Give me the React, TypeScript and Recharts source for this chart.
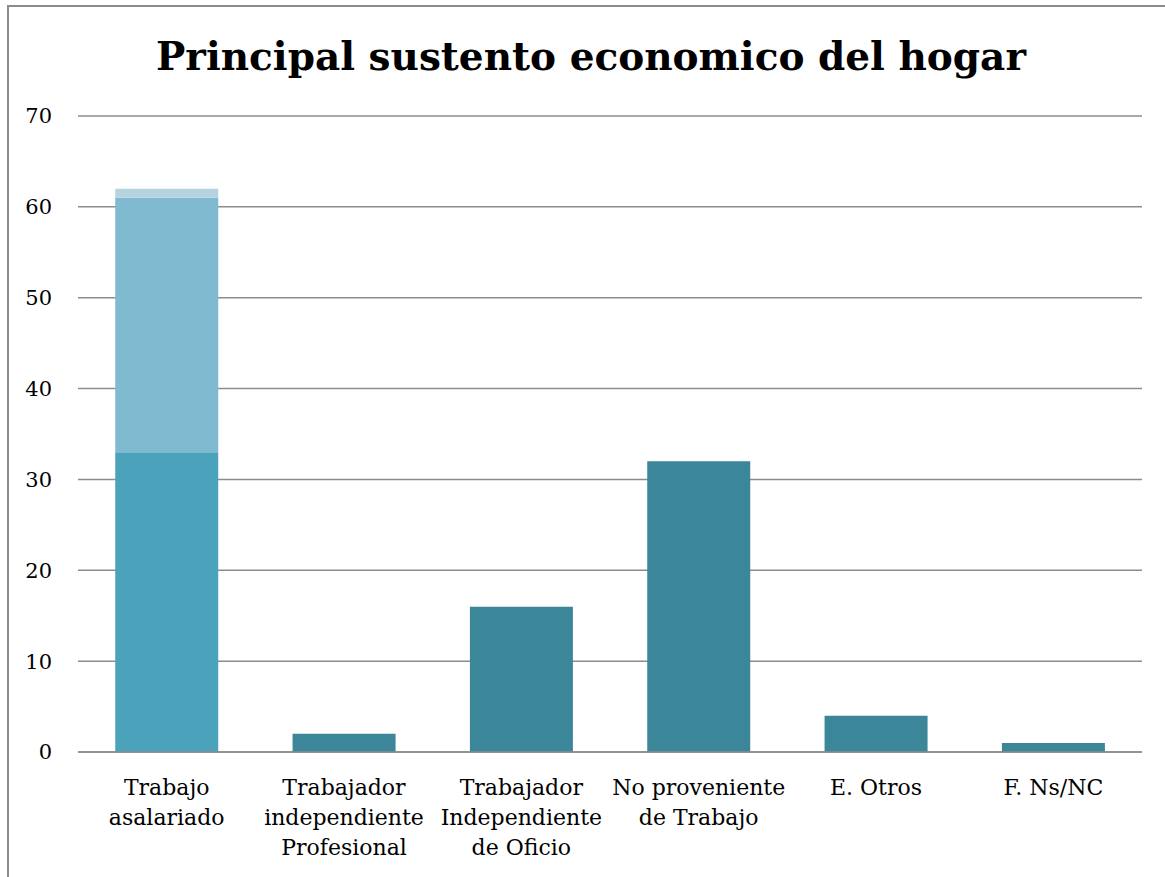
import React from "react";
import { BarChart, Bar, XAxis, YAxis, CartesianGrid, Cell } from "recharts";

const categories = [
  "Trabajo\nasalariado",
  "Trabajador\nindependiente\nProfesional",
  "Trabajador\nIndependiente\nde Oficio",
  "No proveniente\nde Trabajo",
  "E. Otros",
  "F. Ns/NC",
];
const baseValues = [33, 2, 16, 32, 4, 1];
const midValues = [28, 0, 0, 0, 0, 0];
const topValues = [1, 0, 0, 0, 0, 0];
const yTicks = [0, 10, 20, 30, 40, 50, 60, 70];

const data = categories.map((c, i) => ({
  name: c,
  base: baseValues[i],
  mid: midValues[i],
  top: topValues[i],
}));

const FONT = "'DejaVu Serif', serif";

function XTick(props: any) {
  const { x, y, payload } = props;
  const lines = String(payload.value).split("\n");
  return (
    <text x={x} y={y} textAnchor="middle" fill="#000" fontSize={22} fontFamily={FONT}>
      {lines.map((l, i) => (
        <tspan key={i} x={x} dy={i === 0 ? 43 : 30}>
          {l}
        </tspan>
      ))}
    </text>
  );
}

export default function App() {
  return (
    <div
      style={{
        position: "fixed",
        left: 0,
        top: 0,
        width: 1165,
        height: 877,
        background: "#fff",
        overflow: "hidden",
      }}
    >
      <div
        style={{
          position: "absolute",
          left: 7,
          top: 5,
          width: 1200,
          height: 900,
          border: "2px solid #8c8c8c",
        }}
      />
      <div
        style={{
          position: "absolute",
          left: 8,
          top: 33,
          width: 1166,
          textAlign: "center",
          fontFamily: FONT,
          fontWeight: "bold",
          fontSize: 39,
          color: "#000",
        }}
      >
        Principal sustento economico del hogar
      </div>
      <div style={{ position: "absolute", left: 0, top: 0 }}>
        <BarChart
          width={1165}
          height={877}
          data={data}
          margin={{ top: 116, right: 23, bottom: 15, left: 0 }}
          barCategoryGap="21%"
        >
          <CartesianGrid vertical={false} stroke="#8c8c8c" strokeWidth={1.5} />
          <XAxis
            dataKey="name"
            height={110}
            tick={<XTick />}
            tickLine={false}
            tickSize={0}
            tickMargin={0}
            interval={0}
            axisLine={{ stroke: "#8c8c8c", strokeWidth: 1.5 }}
          />
          <YAxis
            width={78}
            domain={[0, 70]}
            ticks={yTicks}
            tickLine={false}
            axisLine={false}
            tickSize={0}
            tickMargin={26}
            tick={{ fill: "#000", fontSize: 21, fontFamily: FONT }}
          />
          <Bar dataKey="base" stackId="a" isAnimationActive={false}>
            {data.map((d, i) => (
              <Cell key={i} fill={i === 0 ? "#4aa3bb" : "#3b8799"} />
            ))}
          </Bar>
          <Bar dataKey="mid" stackId="a" fill="#7fbad0" isAnimationActive={false} />
          <Bar dataKey="top" stackId="a" fill="#b5d4e0" isAnimationActive={false} />
        </BarChart>
      </div>
    </div>
  );
}
